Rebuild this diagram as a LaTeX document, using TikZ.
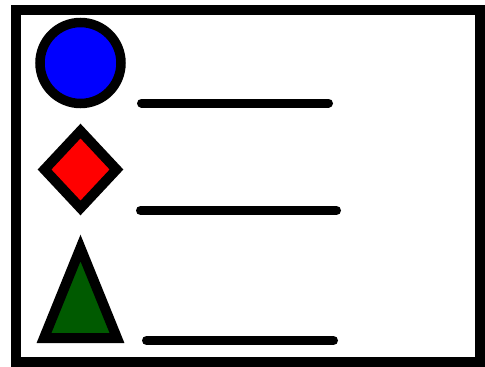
\documentclass[tikz,border=0pt]{standalone}
\usepackage{xcolor}
\usepackage{tikz}
\usetikzlibrary{shapes.geometric}

\definecolor{legendgreen}{RGB}{0,90,0}

\begin{document}
\begin{tikzpicture}[
    x=1pt, y=-1pt,
    frame/.style={draw=black, line width=10pt},
    marker/.style={draw=black, inner sep=0pt, outer sep=0pt},
    entry/.style={draw=black, line width=9pt, line cap=round}
]
\useasboundingbox (0,0) rectangle (485,367);

% Frame
\draw[frame] (16,10) rectangle (480,362);

% Markers
\node[marker, circle, fill=blue, line width=9.5pt, minimum size=81pt] (markerA) at (80.5,63) {};
\node[marker, diamond, fill=red, line width=10pt, minimum width=72pt, minimum height=77pt] (markerB) at (80.5,169.5) {};
\draw[line width=10pt, fill=legendgreen] (44,338) -- (117,338) -- (80.5,248) -- cycle;

% Entries
\coordinate (entryAs) at (141.5,103);
\coordinate (entryAe) at (328.5,103);
\coordinate (entryBs) at (140.5,210.5);
\coordinate (entryBe) at (336.5,210.5);
\coordinate (entryCs) at (146.5,340.5);
\coordinate (entryCe) at (333.5,340.5);
\draw[entry] (entryAs) -- (entryAe);
\draw[entry] (entryBs) -- (entryBe);
\draw[entry] (entryCs) -- (entryCe);

\end{tikzpicture}
\end{document}
